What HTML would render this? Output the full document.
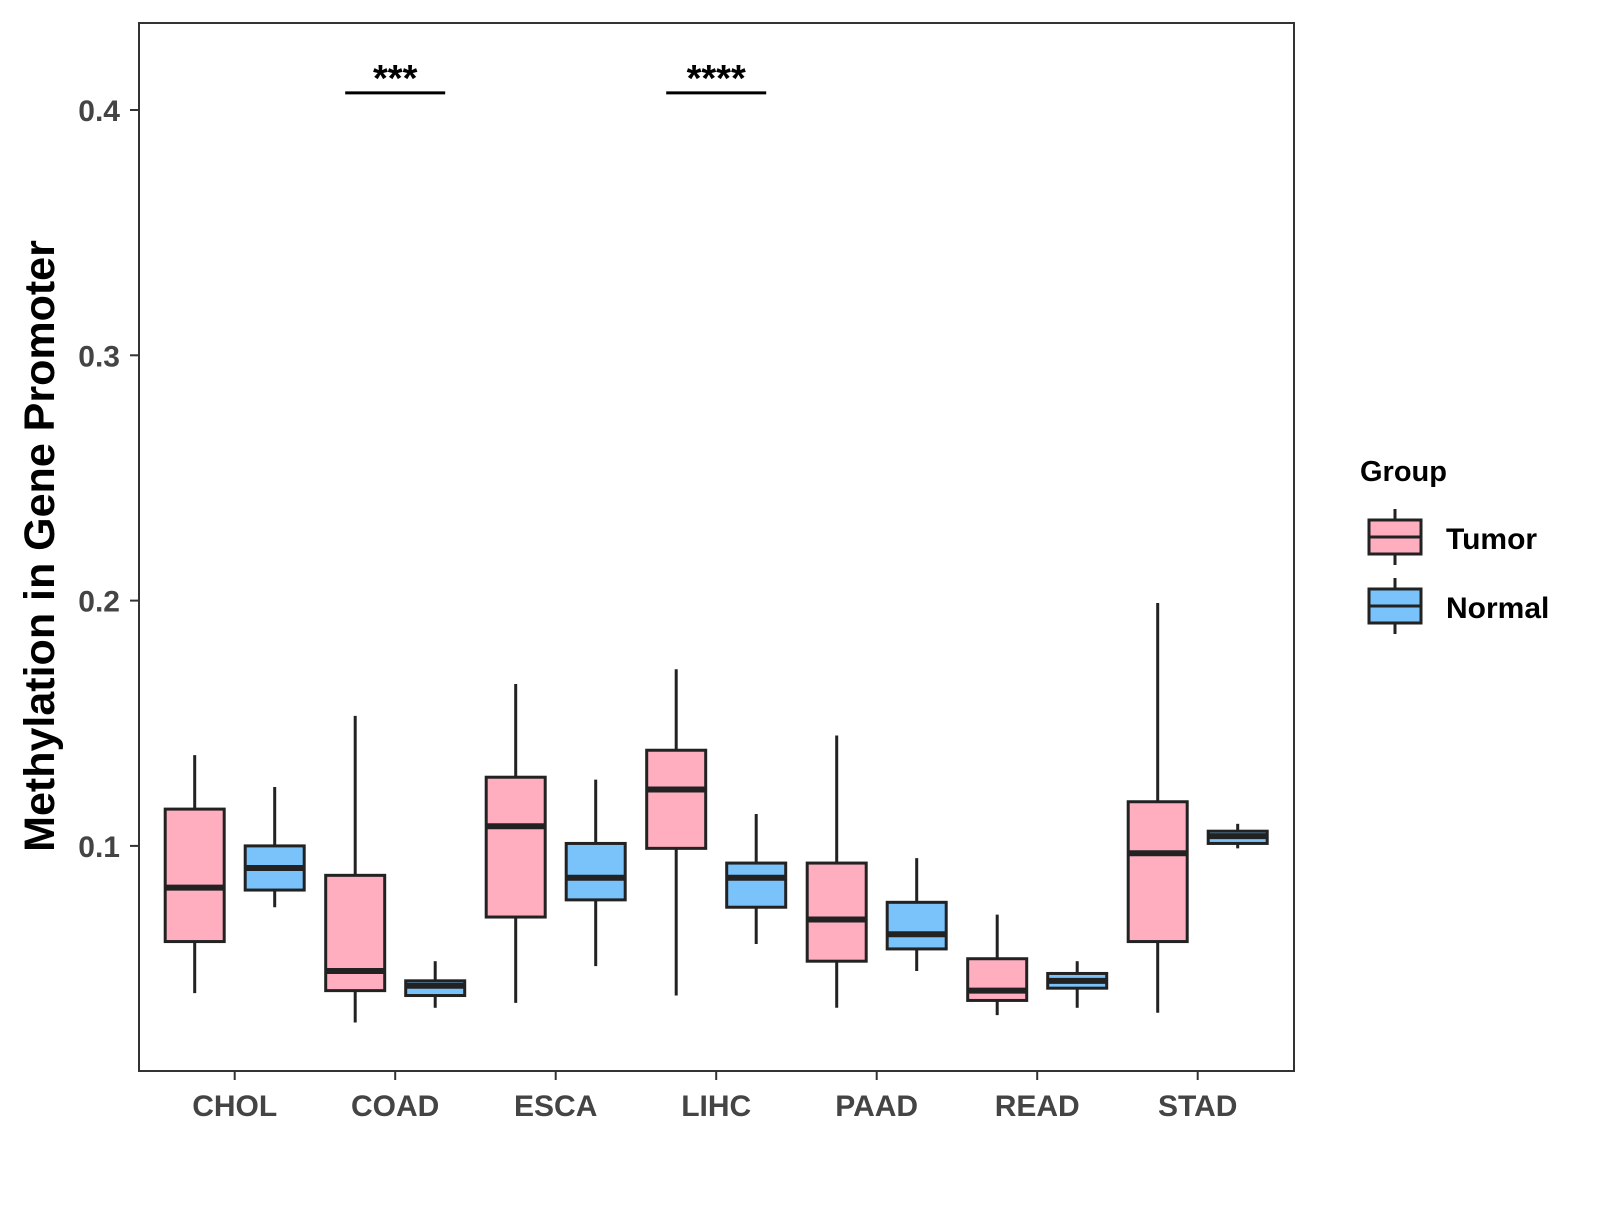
<!DOCTYPE html>
<html><head><meta charset="utf-8"><style>
body{margin:0;background:#fff}
text{font-family:"Liberation Sans",Arial,sans-serif;font-weight:bold}
</style></head><body>
<svg id="chart" width="1600" height="1200" viewBox="0 0 1600 1200" xmlns="http://www.w3.org/2000/svg">
<rect x="0" y="0" width="1600" height="1200" fill="#fff"/>
<g id="marks"></g>
<rect x="139" y="23" width="1155" height="1048" fill="none" stroke="#333" stroke-width="2"/>
<g id="axes"></g>
<text transform="translate(54,546) rotate(-90)" text-anchor="middle" font-size="43" fill="#000">Methylation in Gene Promoter</text>
<g>
<text x="1360" y="481" font-size="29" fill="#000">Group</text>
<g>
<line x1="1395" y1="509" x2="1395" y2="565" stroke="#222" stroke-width="3"/>
<rect x="1369" y="520" width="52" height="34" fill="#FFAEC0" stroke="#222" stroke-width="3"/>
<line x1="1369" y1="537" x2="1421" y2="537" stroke="#222" stroke-width="3"/>
<text x="1446" y="549" font-size="30" fill="#000">Tumor</text>
</g>
<g>
<line x1="1395" y1="578" x2="1395" y2="634" stroke="#222" stroke-width="3"/>
<rect x="1369" y="589" width="52" height="34" fill="#79C3FA" stroke="#222" stroke-width="3"/>
<line x1="1369" y1="606" x2="1421" y2="606" stroke="#222" stroke-width="3"/>
<text x="1446" y="618" font-size="30" fill="#000">Normal</text>
</g>
</g>
</svg>
<script>
const categories=["CHOL","COAD","ESCA","LIHC","PAAD","READ","STAD"];
// [lower whisker, Q1, median, Q3, upper whisker]
const tumorStats=[[0.040,0.061,0.083,0.115,0.137],[0.028,0.041,0.049,0.088,0.153],[0.036,0.071,0.108,0.128,0.166],[0.039,0.099,0.123,0.139,0.172],[0.034,0.053,0.070,0.093,0.145],[0.031,0.037,0.041,0.054,0.072],[0.032,0.061,0.097,0.118,0.199]];
const normalStats=[[0.075,0.082,0.091,0.100,0.124],[0.034,0.039,0.043,0.045,0.053],[0.051,0.078,0.087,0.101,0.127],[0.060,0.075,0.087,0.093,0.113],[0.049,0.058,0.064,0.077,0.095],[0.034,0.042,0.045,0.048,0.053],[0.099,0.101,0.104,0.106,0.109]];
const yTicks=[0.1,0.2,0.3,0.4];
const sigCategories=["COAD","LIHC"];
const sigLabels=["***","****"];
const sigY=[0.407,0.407];

const NS="http://www.w3.org/2000/svg";
const y=v=>110+(0.4-v)*2453;
const x=i=>234.7+i*160.5;
const marks=document.getElementById('marks'),axes=document.getElementById('axes');
function mk(tag,attrs,parent){const e=document.createElementNS(NS,tag);for(const k in attrs)e.setAttribute(k,attrs[k]);parent.appendChild(e);return e;}
function box(cx,s,fill,name,parent){
  const g=mk('g',{},parent);
  
  
  mk('line',{x1:cx,x2:cx,y1:y(s[4]),y2:y(s[0]),stroke:'#222','stroke-width':3},g);
  mk('rect',{x:cx-29.5,y:y(s[3]),width:59,height:y(s[1])-y(s[3]),fill:fill,stroke:'#222','stroke-width':3},g);
  mk('line',{x1:cx-29.5,x2:cx+29.5,y1:y(s[2]),y2:y(s[2]),stroke:'#222','stroke-width':6},g);
}
categories.forEach((c,i)=>{
  box(x(i)-40,tumorStats[i],'#FFAEC0','box-tumor-'+c.toLowerCase(),marks);
  box(x(i)+40,normalStats[i],'#79C3FA','box-normal-'+c.toLowerCase(),marks);
  const t=mk('line',{x1:x(i),x2:x(i),y1:1071,y2:1080,stroke:'#333','stroke-width':2},axes);
  
  
  const l=mk('text',{x:x(i),y:1116,'text-anchor':'middle','font-size':30,fill:'#444'},axes);
  
  
  l.textContent=c;
});
yTicks.forEach(v=>{
  const t=mk('line',{x1:130,x2:139,y1:y(v),y2:y(v),stroke:'#333','stroke-width':2},axes);
  
  
  const l=mk('text',{x:120,y:y(v)+11,'text-anchor':'end','font-size':30,fill:'#444'},axes);
  
  
  l.textContent=v.toFixed(1);
});
sigCategories.forEach((c,k)=>{
  const i=categories.indexOf(c);
  const ln=mk('line',{x1:x(i)-50,x2:x(i)+50,y1:y(sigY[k]),y2:y(sigY[k]),stroke:'#000','stroke-width':3},marks);
  
  
  const t=mk('text',{x:x(i),y:y(sigY[k])-2,'text-anchor':'middle','font-size':38,fill:'#000'},marks);
  
  
  t.textContent=sigLabels[k];
});
</script>
</body></html>
